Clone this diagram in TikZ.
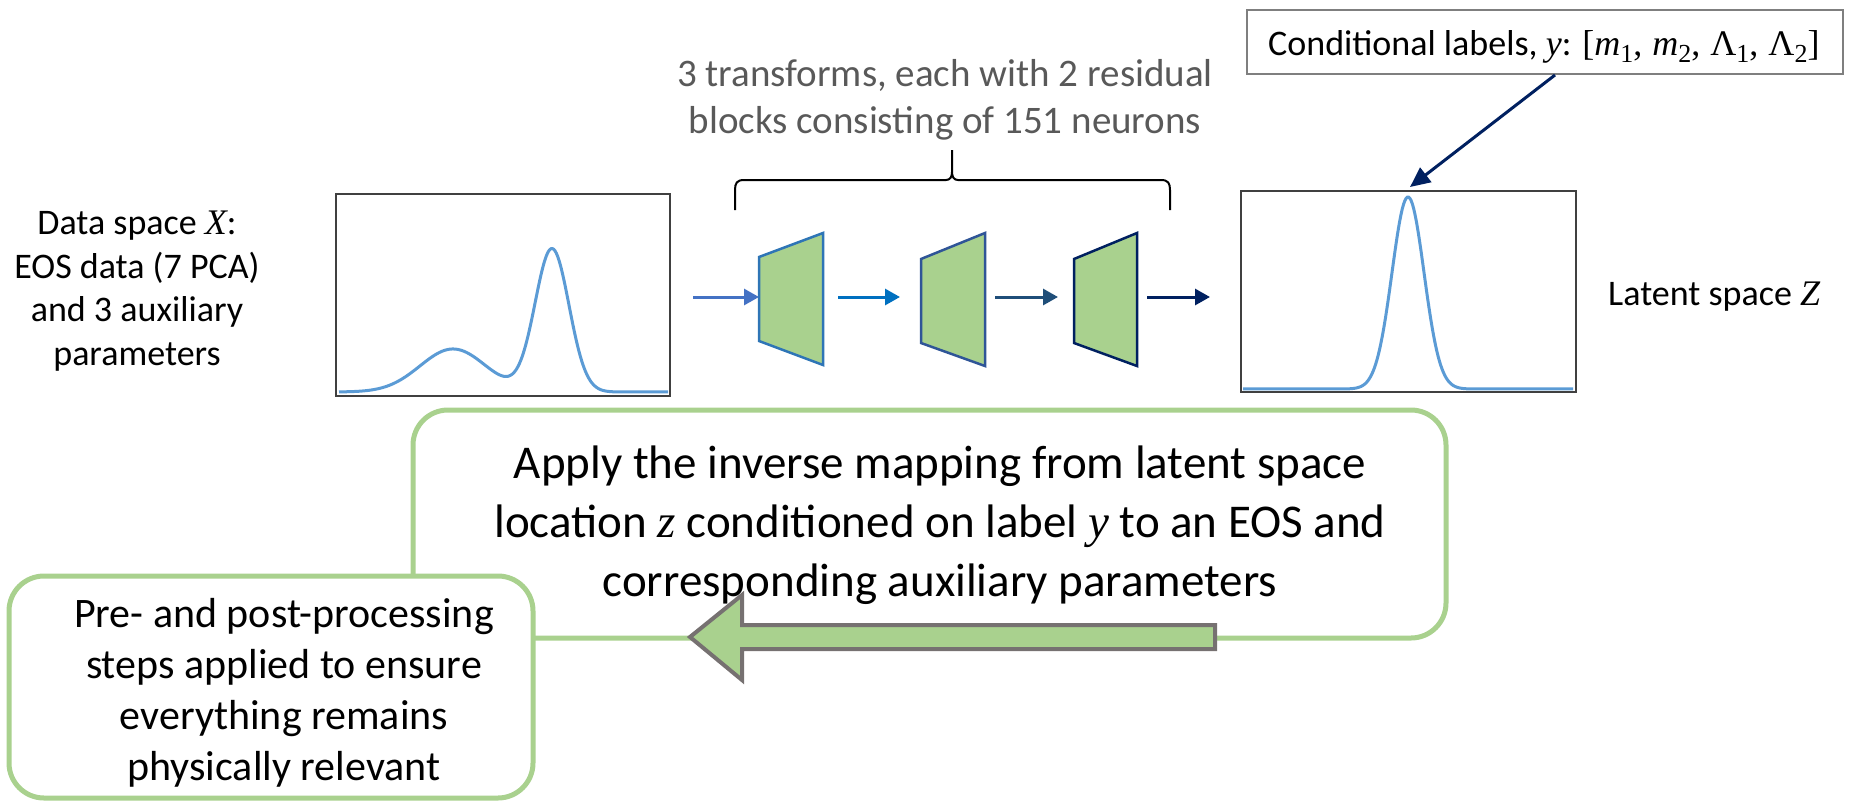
\documentclass[tikz,border=0pt]{standalone}
\usepackage{fontspec}
\setmainfont{Carlito}
\newfontfamily\mvar{Liberation Serif}
\newcommand\vx[1]{{\mvar\itshape #1}}
\newcommand\lowidx[1]{\raisebox{-0.22em}{\fontsize{26}{26}\selectfont #1}}
\usetikzlibrary{arrows.meta}

\definecolor{blockgreen}{HTML}{A9D18E}
\definecolor{arrowgray}{HTML}{767171}
\definecolor{boxgray}{HTML}{404040}
\definecolor{labelgray}{HTML}{7F7F7F}
\definecolor{titlegray}{HTML}{595959}
\definecolor{curveblue}{HTML}{5B9BD5}
\definecolor{arrowA}{HTML}{4472C4}
\definecolor{arrowB}{HTML}{0070C0}
\definecolor{arrowC}{HTML}{1F4E79}
\definecolor{arrowD}{HTML}{002060}
\definecolor{edgeA}{HTML}{2E75B6}
\definecolor{edgeB}{HTML}{2F5597}
\definecolor{edgeC}{HTML}{002060}

\tikzset{
  plotbox/.style={draw=boxgray, line width=2.5pt, inner sep=0pt},
  curve/.style={curveblue, line width=3pt},
  flowblock/.style={fill=blockgreen, line width=2.5pt, line join=miter},
  flowarrow/.style={line width=3pt, -{Triangle[length=15pt,width=16pt]}},
  greenbox/.style={draw=blockgreen, line width=5pt, rounded corners=35pt, fill=white, inner sep=0pt},
  bodytext/.style={align=center, inner sep=0pt},
}

\begin{document}
\begin{tikzpicture}[x=1pt, y=-1pt]
\useasboundingbox (0,0) rectangle (1849,801);

% conditional label box
\node[draw=labelgray, line width=2pt, minimum width=596pt, minimum height=64pt, inner sep=0pt] (cond) at (1545,42) {};
\node[anchor=base west, inner sep=0pt, font=\fontsize{36}{43}\selectfont] (condtext) at (1268,55)
  {Conditional labels, \vx{y}: {\mvar[\vx{m}\lowidx{1},\;\vx{m}\lowidx{2},\;Λ\lowidx{1},\;Λ\lowidx{2}]}};

% caption over the transforms
\node[bodytext, text=titlegray, font=\fontsize{39}{47}\selectfont] (title) at (945,100)
  {3 transforms, each with 2 residual\\blocks consisting of 151 neurons};

% brace grouping the transforms
\draw[line width=2pt, line join=round]
  (735,210) -- (735,190) .. controls (735,183) and (737,180) .. (744,180) -- (946,180)
  .. controls (950,180) and (952,177) .. (952,172) -- (952,150)
  (952,172) .. controls (952,177) and (954,180) .. (958,180) -- (1161,180)
  .. controls (1168,180) and (1170,183) .. (1170,190) -- (1170,210);

% data space label and plot
\node[bodytext, font=\fontsize{36}{43.5}\selectfont] (xlabel) at (137,291)
  {Data space \vx{X}:\\EOS data (7 PCA)\\and 3 auxiliary\\parameters};
\node[plotbox, minimum width=334pt, minimum height=202pt] (xbox) at (503,295) {};
\draw[curve] plot[domain=339:668, samples=260]
  (\x, {392 - 43*exp(max(-9,-0.5*((\x-453)/33)^2)) - 143*exp(max(-9,-0.5*((\x-552)/17)^2))});

% latent space label and plot
\node[plotbox, minimum width=335pt, minimum height=201pt] (zbox) at (1408.5,291.5) {};
\draw[curve] plot[domain=1243:1573, samples=260]
  (\x, {389 - 192*exp(max(-9,-0.5*((\x-1408)/16)^2))});
\coordinate (zpeak) at (1410,187);
\node[anchor=base west, inner sep=0pt, font=\fontsize{36}{43}\selectfont] (zlabel) at (1608,305) {Latent space \vx{Z}};

\draw[line width=3pt, arrowD, -{Triangle[length=20pt,width=18pt]}] ([xshift=10pt]cond.south) -- (zpeak);

% the three transforms
\draw[flowblock, draw=edgeA] (759,257) -- (823,233) -- (823,365) -- (759,341) -- cycle;
\draw[flowblock, draw=edgeB] (921,259) -- (985,233) -- (985,366) -- (921,343) -- cycle;
\draw[flowblock, draw=edgeC] (1074,259) -- (1137,233) -- (1137,366) -- (1074,343) -- cycle;
\coordinate (b1in) at (759,297);  \coordinate (b1out) at (823,297);
\coordinate (b2in) at (921,297);  \coordinate (b2out) at (985,297);
\coordinate (b3in) at (1074,297); \coordinate (b3out) at (1137,297);
\coordinate (flowstart) at (693,297);
\coordinate (flowend) at (1210,297);

\draw[flowarrow, arrowA] (flowstart) -- (b1in);
\draw[flowarrow, arrowB] ([xshift=15pt]b1out) -- ([xshift=-21pt]b2in);
\draw[flowarrow, arrowC] ([xshift=10pt]b2out) -- ([xshift=-16pt]b3in);
\draw[flowarrow, arrowD] ([xshift=10pt]b3out) -- (flowend);

% inverse mapping box
\node[greenbox, minimum width=1033pt, minimum height=228pt] (invbox) at (929.5,524) {};
\node[bodytext, font=\fontsize{47}{59}\selectfont] (invtext) at (940,525)
  {Apply the inverse mapping from latent space\\location \vx{z} conditioned on label \vx{y} to an EOS and\\corresponding auxiliary parameters};

% backward block arrow
\draw[fill=blockgreen, draw=arrowgray, line width=4pt, line join=miter]
  (690,637) -- (742,595) -- (742,625) -- (1215,625) -- (1215,649) -- (742,649) -- (742,680) -- cycle;

% processing box
\node[greenbox, minimum width=524pt, minimum height=222pt] (ppbox) at (271,687) {};
\node[bodytext, font=\fontsize{42}{51}\selectfont] (pptext) at (284,693)
  {Pre- and post-processing\\steps applied to ensure\\everything remains\\physically relevant};
\end{tikzpicture}
\end{document}
